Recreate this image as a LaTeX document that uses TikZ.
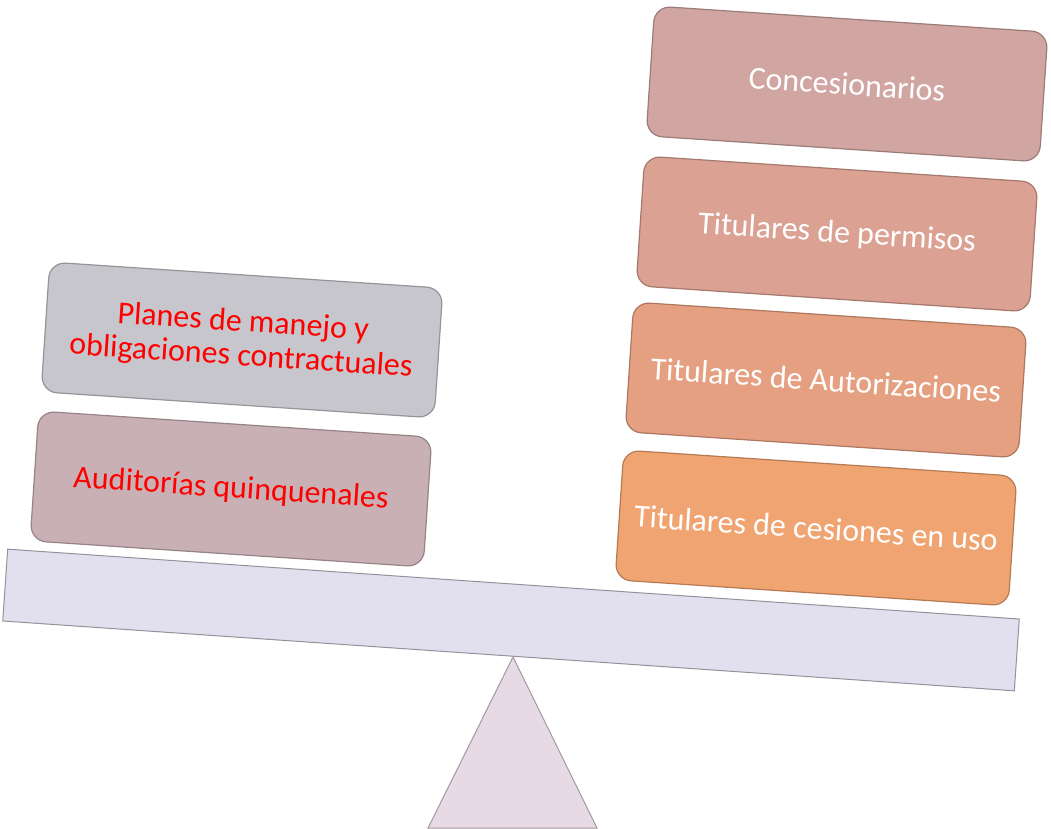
\documentclass[tikz,border=0pt]{standalone}
\usepackage{fontspec}
\setmainfont{Carlito}

\definecolor{planesgray}{RGB}{198,198,204}
\definecolor{auditmauve}{RGB}{200,176,181}
\definecolor{concrose}{RGB}{208,165,162}
\definecolor{permsalmon}{RGB}{219,161,147}
\definecolor{autoorange}{RGB}{229,160,129}
\definecolor{cesorange}{RGB}{240,164,113}
\definecolor{beamlilac}{RGB}{226,224,238}
\definecolor{baselilac}{RGB}{232,218,228}

\begin{document}
\begin{tikzpicture}[x=0.5pt,y=-0.5pt,
    block/.style={
        draw=#1!75!black, fill=#1, line width=0.6pt, rounded corners=8pt,
        minimum width=197pt, minimum height=65pt, rotate=-3.8,
        align=center, font=\fontsize{16}{17}\selectfont, inner sep=2pt
    },
    leftblock/.style={block=#1, text=red},
    rightblock/.style={block=#1, text=white}
]

\useasboundingbox (0,0) rectangle (1051,829);

% fulcrum
\filldraw[fill=baselilac, draw=baselilac!70!black, line width=0.5pt]
    (513,657) -- (597,828) -- (428,828) -- cycle;

% beam
\node[
    draw=beamlilac!65!black, fill=beamlilac, line width=0.5pt,
    minimum width=507pt, minimum height=36pt, rotate=-3.95, inner sep=0pt
] (beam) at (511,620) {};

% left pan
\node[leftblock=planesgray] (planes) at (242,340)
    {Planes de manejo y\\obligaciones contractuales};
\node[leftblock=auditmauve] (audit) at (231,489) {Auditorías quinquenales};

% right pan
\node[rightblock=concrose] (conc) at (847,84) {Concesionarios};
\node[rightblock=permsalmon] (perm) at (837,234) {Titulares de permisos};
\node[rightblock=autoorange] (auto) at (826,380) {Titulares de Autorizaciones};
\node[rightblock=cesorange] (ces) at (816,528) {Titulares de cesiones en uso};

\end{tikzpicture}
\end{document}
